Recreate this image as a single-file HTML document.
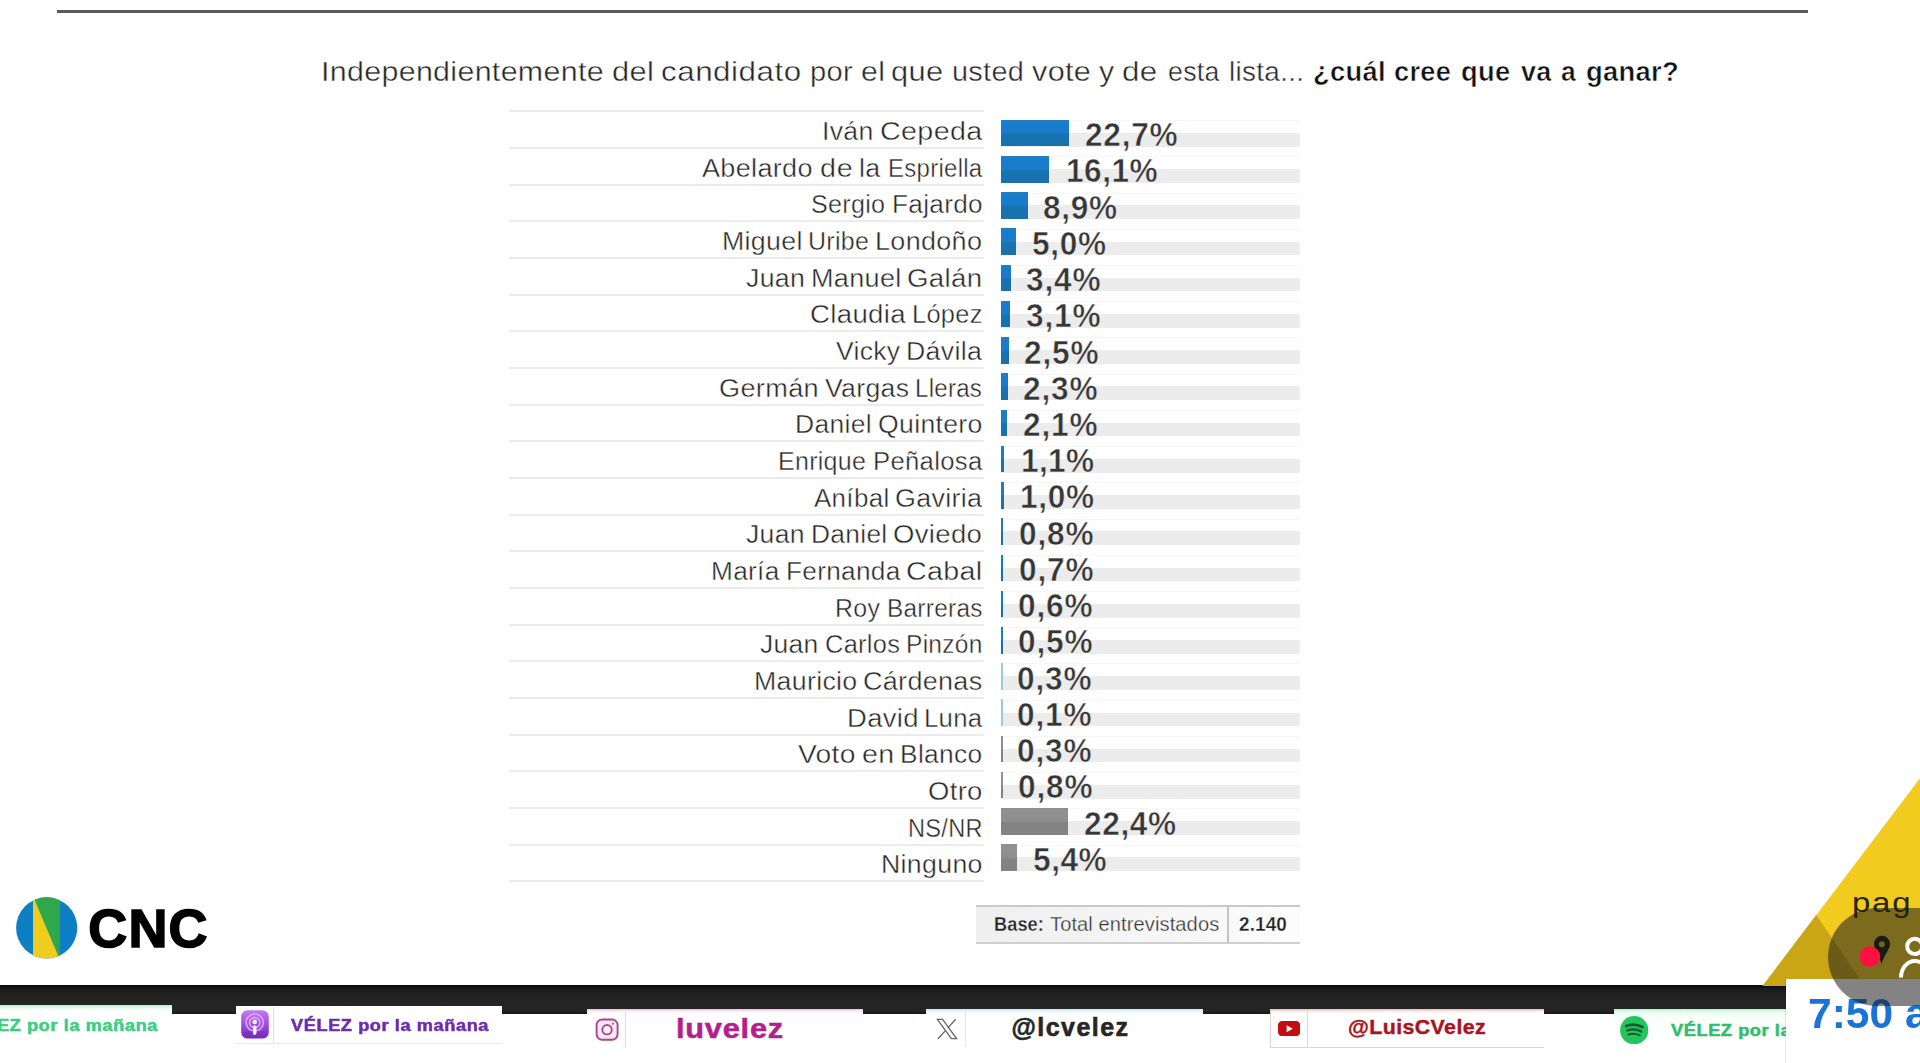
<!DOCTYPE html>
<html lang="es">
<head>
<meta charset="utf-8">
<title>Encuesta CNC</title>
<style>
html,body{margin:0;padding:0;background:#fff;}
html{width:1920px;height:1063px;overflow:hidden;}
body{position:relative;width:1920px;height:1063px;overflow:hidden;font-family:"Liberation Sans",sans-serif;}
#clip{position:absolute;left:0;top:0;width:1920px;height:1063px;overflow:hidden;}
#soft{position:absolute;left:-12px;top:-12px;width:1944px;height:1087px;background:#fff;filter:blur(0.45px);}
#stage{position:absolute;left:12px;top:12px;width:1920px;height:1063px;background:#fff;}
.t{position:absolute;white-space:nowrap;line-height:1;margin:0;padding:0;z-index:1;}
.a{position:absolute;}
.sep{position:absolute;left:509px;width:475px;height:2px;background:#ebebeb;}
.trk{position:absolute;left:1001px;width:299px;height:13.8px;background:#ececec;border-radius:0 2px 2px 0;}
.hl{position:absolute;left:1001px;width:299px;height:1px;background:#f6f6f6;}
.bar{position:absolute;left:1001px;height:26.7px;}
.bb{background:linear-gradient(180deg,#2a7cb6 0%,#187dce 9%,#1a7bc8 49%,#1872b0 56%,#1871ad 96%,#2470a4 100%);}
.bl{background:#9fc6e4;}
.bg{background:linear-gradient(180deg,#8d8d8d 0%,#919191 8%,#8e8e8e 49%,#838383 56%,#828282 100%);}
.tab{position:absolute;background:#fff;}

</style>
</head>
<body>
<div id="clip">
<div id="soft">
<div id="stage">
<div class="a" style="left:57px;top:9.5px;width:1751px;height:3px;background:#5a5a5a;"></div>
<div class="sep" style="top:110.4px"></div>
<div class="hl" style="top:120.0px"></div>
<div class="trk" style="top:132.8px"></div>
<div class="bar bb" style="top:119.7px;width:68.1px"></div>
<div class="sep" style="top:147.1px"></div>
<div class="hl" style="top:156.2px"></div>
<div class="trk" style="top:169.0px"></div>
<div class="bar bb" style="top:155.9px;width:48.3px"></div>
<div class="sep" style="top:183.7px"></div>
<div class="hl" style="top:192.5px"></div>
<div class="trk" style="top:205.3px"></div>
<div class="bar bb" style="top:192.2px;width:26.7px"></div>
<div class="sep" style="top:220.4px"></div>
<div class="hl" style="top:228.7px"></div>
<div class="trk" style="top:241.5px"></div>
<div class="bar bb" style="top:228.4px;width:15.0px"></div>
<div class="sep" style="top:257.1px"></div>
<div class="hl" style="top:264.9px"></div>
<div class="trk" style="top:277.7px"></div>
<div class="bar bb" style="top:264.6px;width:10.2px"></div>
<div class="sep" style="top:293.7px"></div>
<div class="hl" style="top:301.1px"></div>
<div class="trk" style="top:313.9px"></div>
<div class="bar bb" style="top:300.8px;width:9.3px"></div>
<div class="sep" style="top:330.4px"></div>
<div class="hl" style="top:337.4px"></div>
<div class="trk" style="top:350.2px"></div>
<div class="bar bb" style="top:337.1px;width:7.5px"></div>
<div class="sep" style="top:367.1px"></div>
<div class="hl" style="top:373.6px"></div>
<div class="trk" style="top:386.4px"></div>
<div class="bar bb" style="top:373.3px;width:6.9px"></div>
<div class="sep" style="top:403.7px"></div>
<div class="hl" style="top:409.8px"></div>
<div class="trk" style="top:422.6px"></div>
<div class="bar bb" style="top:409.5px;width:6.3px"></div>
<div class="sep" style="top:440.4px"></div>
<div class="hl" style="top:446.1px"></div>
<div class="trk" style="top:458.9px"></div>
<div class="bar bb" style="top:445.8px;width:3.3px"></div>
<div class="sep" style="top:477.0px"></div>
<div class="hl" style="top:482.3px"></div>
<div class="trk" style="top:495.1px"></div>
<div class="bar bb" style="top:482.0px;width:3.0px"></div>
<div class="sep" style="top:513.7px"></div>
<div class="hl" style="top:518.5px"></div>
<div class="trk" style="top:531.3px"></div>
<div class="bar bb" style="top:518.2px;width:2.4px"></div>
<div class="sep" style="top:550.4px"></div>
<div class="hl" style="top:554.8px"></div>
<div class="trk" style="top:567.6px"></div>
<div class="bar bb" style="top:554.5px;width:2.1px"></div>
<div class="sep" style="top:587.0px"></div>
<div class="hl" style="top:591.0px"></div>
<div class="trk" style="top:603.8px"></div>
<div class="bar bb" style="top:590.7px;width:1.8px"></div>
<div class="sep" style="top:623.7px"></div>
<div class="hl" style="top:627.2px"></div>
<div class="trk" style="top:640.0px"></div>
<div class="bar bb" style="top:626.9px;width:1.6px"></div>
<div class="sep" style="top:660.4px"></div>
<div class="hl" style="top:663.4px"></div>
<div class="trk" style="top:676.2px"></div>
<div class="bar bl" style="top:663.1px;width:1.6px"></div>
<div class="sep" style="top:697.0px"></div>
<div class="hl" style="top:699.7px"></div>
<div class="trk" style="top:712.5px"></div>
<div class="bar bl" style="top:699.4px;width:1.6px"></div>
<div class="sep" style="top:733.7px"></div>
<div class="hl" style="top:735.9px"></div>
<div class="trk" style="top:748.7px"></div>
<div class="bar bg" style="top:735.6px;width:1.6px"></div>
<div class="sep" style="top:770.4px"></div>
<div class="hl" style="top:772.1px"></div>
<div class="trk" style="top:784.9px"></div>
<div class="bar bg" style="top:771.8px;width:2.4px"></div>
<div class="sep" style="top:807.0px"></div>
<div class="hl" style="top:808.4px"></div>
<div class="trk" style="top:821.2px"></div>
<div class="bar bg" style="top:808.1px;width:67.2px"></div>
<div class="sep" style="top:843.7px"></div>
<div class="hl" style="top:844.6px"></div>
<div class="trk" style="top:857.4px"></div>
<div class="bar bg" style="top:844.3px;width:16.2px"></div>
<div class="sep" style="top:880.4px"></div>
<div class="a" style="left:976px;top:905px;width:324px;height:39px;background:linear-gradient(90deg,#efefef 0%,#f6f6f6 60%,#fdfdfd 100%);border-top:2px solid #c9c9c9;border-bottom:2px solid #cfcfcf;box-sizing:border-box;"></div>
<div class="a" style="left:1227px;top:906px;width:1.5px;height:37px;background:#c4c4c4;"></div>
<svg class="a" style="left:15px;top:896px" width="64" height="64" viewBox="0 0 64 64">
<defs><clipPath id="cc"><circle cx="31.7" cy="31.9" r="30.6"/></clipPath></defs>
<g clip-path="url(#cc)">
<rect x="0" y="0" width="64" height="64" fill="#0d7fc4"/>
<polygon points="18,0 45,0 45,64" fill="#2fa84c"/>
<polygon points="18,0 45,64 18,64" fill="#efcd1f"/>
</g></svg>
<div class="a" style="left:-12px;top:985px;width:1798px;height:28.6px;background:linear-gradient(180deg,#080808 0%,#1b1b1b 14%,#232323 40%,#252525 88%,#161616 100%);"></div>
<div class="tab" style="left:-12px;top:1004.8px;width:184px;height:40px;background:linear-gradient(180deg,#aef3c8 0px,#e9fcf0 3px,#fff 6px);"></div>
<div class="tab" style="left:236px;top:1005.6px;width:265.6px;height:38px;border-bottom:1px solid #ece6f2;box-sizing:border-box;"></div>
<svg class="a" style="left:241px;top:1010.2px" width="28" height="29" viewBox="0 0 28 29">
<defs><linearGradient id="pg" x1="0" y1="0" x2="0" y2="1"><stop offset="0" stop-color="#c57af3"/><stop offset="0.6" stop-color="#9a45d6"/><stop offset="1" stop-color="#7426b6"/></linearGradient></defs>
<rect x="0.2" y="0.2" width="27.6" height="28.4" rx="6.4" fill="url(#pg)"/>
<circle cx="13.7" cy="12.6" r="8.6" fill="none" stroke="#e6c4fb" stroke-opacity="0.75" stroke-width="1.7"/>
<circle cx="13.7" cy="12.6" r="5.2" fill="none" stroke="#e9cbfc" stroke-opacity="0.8" stroke-width="1.5"/>
<path d="M3 21 L24.4 21 L24.4 26 L3 26 Z" fill="#7e2ebf" opacity="0.55"/>
<circle cx="13.7" cy="11.9" r="2.3" fill="#fbf2ff"/>
<rect x="11.9" y="15.3" width="3.6" height="9.6" rx="1.8" fill="#fbf2ff"/>
</svg>
<div class="a" style="left:272.8px;top:1007px;width:1.2px;height:36px;background:#e4dced;"></div>
<div class="tab" style="left:587px;top:1009.2px;width:276px;height:39px;background:linear-gradient(180deg,#f0b9dc 0px,#fdf1f8 2.5px,#fff 5px);"></div>
<svg class="a" style="left:594.6px;top:1018px" width="24" height="23" viewBox="0 0 24 23" fill="none" stroke="#a8478a" stroke-width="1.9">
<rect x="1.6" y="1.5" width="21" height="20.2" rx="5.6" fill="#fde6f5"/><circle cx="12" cy="11.7" r="4.7" fill="#fff4fb"/><circle cx="17.9" cy="5.8" r="1" fill="#a8478a" stroke="none"/></svg>
<div class="a" style="left:624.8px;top:1011.5px;width:1.2px;height:36.5px;background:#ecd3e2;"></div>
<div class="tab" style="left:926.2px;top:1008.8px;width:276.4px;height:39px;background:linear-gradient(180deg,#c4ebf8 0px,#eef9fd 3px,#fff 6px);"></div>
<svg class="a" style="left:935.8px;top:1017.8px" width="22" height="22" viewBox="0 0 22 22" fill="none" stroke="#666" stroke-width="1.3" stroke-linejoin="miter">
<path d="M1.4 1.3 L6.6 1.3 L20.6 20.7 L15.4 20.7 Z"/><path d="M19.6 1.3 L11.9 9.9"/><path d="M9.5 12.6 L1.9 20.7"/></svg>
<div class="a" style="left:964.8px;top:1011px;width:1.2px;height:35.5px;background:#dbe9ef;"></div>
<div class="tab" style="left:1269.6px;top:1009.2px;width:274.8px;height:39px;border-left:1.5px solid #dfcfd0;border-bottom:1.5px solid #e3d2d3;box-sizing:border-box;background:linear-gradient(180deg,#efb4b7 0px,#fdf0f0 2.5px,#fff 5px);"></div>
<svg class="a" style="left:1277.8px;top:1021.2px" width="22.2" height="15.2" viewBox="0 0 22.2 15.2">
<rect x="0" y="0" width="22.2" height="15.2" rx="4.2" fill="#c30d12"/><polygon points="8.6,4.2 8.6,11.2 14.8,7.7" fill="#fff"/></svg>
<div class="a" style="left:1306.9px;top:1010.5px;width:1.4px;height:37px;background:#e6d3d4;"></div>
<div class="tab" style="left:1613.5px;top:1009px;width:175px;height:41px;background:linear-gradient(180deg,#a9f5c6 0px,#e6fdef 3px,#f7fffa 7px,#fff 30px);"></div>
<svg class="a" style="left:1620.2px;top:1015.7px" width="28.4" height="28.4" viewBox="0 0 28 28">
<circle cx="14" cy="14" r="13.9" fill="#23c55d"/>
<g fill="none" stroke="#175a2c" stroke-linecap="round">
<path d="M6.2 9.9 Q14 6.6 22.2 10.9" stroke-width="2.7"/>
<path d="M7.2 14.3 Q14 11.7 20.9 15.2" stroke-width="2.3"/>
<path d="M8.2 18.4 Q14 16.4 19.6 19.1" stroke-width="1.9"/>
</g></svg>
<svg class="a" style="left:1740px;top:760px" width="180" height="230" viewBox="0 0 180 230">
<polygon points="181,17 181,226 22.6,226" fill="#f1cb1d"/>
<polygon points="22.6,226 76.2,154.9 124.7,226" fill="#caa616"/>
</svg>
<div class="a" style="left:1785.6px;top:979px;width:140px;height:90px;background:#fff;box-shadow:-1px 0 0 rgba(0,0,0,0.10);z-index:3;"></div>
<div class="a" style="left:1828px;top:907.5px;width:200px;height:98px;border-radius:49px;background:rgba(30,30,30,0.55);z-index:5;"></div>
<svg class="a" style="left:1855px;top:930px;z-index:6" width="65" height="60" viewBox="0 0 65 60">
<path d="M27 5.8 a8 8 0 0 1 8 8 c0 5.4 -5.2 9.4 -8.6 20.8 c-1.2 -8.4 -7.4 -14.4 -7.4 -20.8 a8 8 0 0 1 8 -8 z" fill="#1c1a14"/>
<circle cx="26.8" cy="14.2" r="3" fill="#6f6322"/>
<circle cx="14.8" cy="26.6" r="10.3" fill="#ff1040"/>
<circle cx="59.8" cy="16.4" r="7.6" fill="none" stroke="#fff" stroke-width="4"/>
<path d="M46 47.5 a13.8 16.6 0 0 1 27.6 0" fill="none" stroke="#fff" stroke-width="4"/>
</svg>
<div class="t" id="w0" style="left:321.1px;top:58.0px;font-size:27.5px;font-weight:400;color:#262626;letter-spacing:0.300px;transform:scaleX(1.1045);transform-origin:0 0;-webkit-text-stroke:0.4px #fff;">Independientemente</div>
<div class="t" id="w1" style="left:612.4px;top:58.0px;font-size:27.5px;font-weight:400;color:#262626;letter-spacing:0.300px;transform:scaleX(1.1219);transform-origin:0 0;-webkit-text-stroke:0.4px #fff;">del</div>
<div class="t" id="w2" style="left:661.1px;top:58.0px;font-size:27.5px;font-weight:400;color:#262626;letter-spacing:0.454px;transform:scaleX(1.1400);transform-origin:0 0;-webkit-text-stroke:0.4px #fff;">candidato</div>
<div class="t" id="w3" style="left:809.9px;top:58.0px;font-size:27.5px;font-weight:400;color:#262626;letter-spacing:0.300px;transform:scaleX(1.0558);transform-origin:0 0;-webkit-text-stroke:0.4px #fff;">por</div>
<div class="t" id="w4" style="left:861.1px;top:58.0px;font-size:27.5px;font-weight:400;color:#262626;letter-spacing:0.300px;transform:scaleX(1.0988);transform-origin:0 0;-webkit-text-stroke:0.4px #fff;">el</div>
<div class="t" id="w5" style="left:891.1px;top:58.0px;font-size:27.5px;font-weight:400;color:#262626;letter-spacing:0.300px;transform:scaleX(1.1207);transform-origin:0 0;-webkit-text-stroke:0.4px #fff;">que</div>
<div class="t" id="w6" style="left:951.9px;top:58.0px;font-size:27.5px;font-weight:400;color:#262626;letter-spacing:0.300px;transform:scaleX(1.0492);transform-origin:0 0;-webkit-text-stroke:0.4px #fff;">usted</div>
<div class="t" id="w7" style="left:1032.3px;top:58.0px;font-size:27.5px;font-weight:400;color:#262626;letter-spacing:0.300px;transform:scaleX(1.1128);transform-origin:0 0;-webkit-text-stroke:0.4px #fff;">vote</div>
<div class="t" id="w8" style="left:1098.6px;top:58.0px;font-size:27.5px;font-weight:400;color:#262626;letter-spacing:0.000px;transform:scaleX(1.0982);transform-origin:0 0;-webkit-text-stroke:0.4px #fff;">y</div>
<div class="t" id="w9" style="left:1121.6px;top:58.0px;font-size:27.5px;font-weight:400;color:#262626;letter-spacing:0.300px;transform:scaleX(1.1394);transform-origin:0 0;-webkit-text-stroke:0.4px #fff;">de</div>
<div class="t" id="w10" style="left:1168.0px;top:58.0px;font-size:27.5px;font-weight:400;color:#262626;letter-spacing:0.300px;transform:scaleX(0.9700);transform-origin:0 0;-webkit-text-stroke:0.4px #fff;">esta</div>
<div class="t" id="w11" style="left:1229.2px;top:58.0px;font-size:27.5px;font-weight:400;color:#262626;letter-spacing:0.300px;transform:scaleX(1.0159);transform-origin:0 0;-webkit-text-stroke:0.4px #fff;">lista...</div>
<div class="t" id="w12" style="left:1312.8px;top:58.0px;font-size:27.5px;font-weight:700;color:#111;letter-spacing:0.300px;transform:scaleX(0.9941);transform-origin:0 0;-webkit-text-stroke:0.5px #fff;">¿cuál</div>
<div class="t" id="w13" style="left:1394.1px;top:58.0px;font-size:27.5px;font-weight:700;color:#111;letter-spacing:0.300px;transform:scaleX(0.9897);transform-origin:0 0;-webkit-text-stroke:0.5px #fff;">cree</div>
<div class="t" id="w14" style="left:1461.3px;top:58.0px;font-size:27.5px;font-weight:700;color:#111;letter-spacing:0.300px;transform:scaleX(0.9921);transform-origin:0 0;-webkit-text-stroke:0.5px #fff;">que</div>
<div class="t" id="w15" style="left:1520.7px;top:58.0px;font-size:27.5px;font-weight:700;color:#111;letter-spacing:0.300px;transform:scaleX(0.9808);transform-origin:0 0;-webkit-text-stroke:0.5px #fff;">va</div>
<div class="t" id="w16" style="left:1561.3px;top:58.0px;font-size:27.5px;font-weight:700;color:#111;letter-spacing:0.000px;transform:scaleX(0.9610);transform-origin:0 0;-webkit-text-stroke:0.5px #fff;">a</div>
<div class="t" id="w17" style="left:1586.3px;top:58.0px;font-size:27.5px;font-weight:700;color:#111;letter-spacing:0.300px;transform:scaleX(0.9958);transform-origin:0 0;-webkit-text-stroke:0.5px #fff;">ganar?</div>
<div class="t" id="l0_0" style="left:822.4px;top:119.0px;font-size:25.2px;font-weight:400;color:#262626;letter-spacing:0.300px;transform:scaleX(1.0558);transform-origin:0 0;-webkit-text-stroke:0.4px #fff;">Iván</div>
<div class="t" id="l0_1" style="left:880.0px;top:119.0px;font-size:25.2px;font-weight:400;color:#262626;letter-spacing:0.300px;transform:scaleX(1.1391);transform-origin:0 0;-webkit-text-stroke:0.4px #fff;">Cepeda</div>
<div class="t" id="v0" style="left:1084.8px;top:117.0px;font-size:34px;font-weight:700;color:#363636;letter-spacing:0.818px;transform:scaleX(0.9300);transform-origin:0 0;-webkit-text-stroke:0.5px #fbfbfb;">22,7%</div>
<div class="t" id="l1_0" style="left:701.8px;top:156.0px;font-size:25.2px;font-weight:400;color:#262626;letter-spacing:0.300px;transform:scaleX(1.0730);transform-origin:0 0;-webkit-text-stroke:0.4px #fff;">Abelardo</div>
<div class="t" id="l1_1" style="left:819.7px;top:156.0px;font-size:25.2px;font-weight:400;color:#262626;letter-spacing:0.730px;transform:scaleX(1.1400);transform-origin:0 0;-webkit-text-stroke:0.4px #fff;">de</div>
<div class="t" id="l1_2" style="left:859.2px;top:156.0px;font-size:25.2px;font-weight:400;color:#262626;letter-spacing:0.300px;transform:scaleX(1.0622);transform-origin:0 0;-webkit-text-stroke:0.4px #fff;">la</div>
<div class="t" id="l1_3" style="left:888.0px;top:156.0px;font-size:25.2px;font-weight:400;color:#262626;letter-spacing:0.300px;transform:scaleX(0.9513);transform-origin:0 0;-webkit-text-stroke:0.4px #fff;">Espriella</div>
<div class="t" id="v1" style="left:1066.3px;top:153.0px;font-size:34px;font-weight:700;color:#363636;letter-spacing:0.549px;transform:scaleX(0.9300);transform-origin:0 0;-webkit-text-stroke:0.5px #fbfbfb;">16,1%</div>
<div class="t" id="l2_0" style="left:811.2px;top:192.0px;font-size:25.2px;font-weight:400;color:#262626;letter-spacing:0.300px;transform:scaleX(0.9965);transform-origin:0 0;-webkit-text-stroke:0.4px #fff;">Sergio</div>
<div class="t" id="l2_1" style="left:891.6px;top:192.0px;font-size:25.2px;font-weight:400;color:#262626;letter-spacing:0.300px;transform:scaleX(1.0387);transform-origin:0 0;-webkit-text-stroke:0.4px #fff;">Fajardo</div>
<div class="t" id="v2" style="left:1043.3px;top:190.0px;font-size:34px;font-weight:700;color:#363636;letter-spacing:0.762px;transform:scaleX(0.9300);transform-origin:0 0;-webkit-text-stroke:0.5px #fbfbfb;">8,9%</div>
<div class="t" id="l3_0" style="left:722.3px;top:229.0px;font-size:25.2px;font-weight:400;color:#262626;letter-spacing:0.300px;transform:scaleX(1.0623);transform-origin:0 0;-webkit-text-stroke:0.4px #fff;">Miguel</div>
<div class="t" id="l3_1" style="left:808.4px;top:229.0px;font-size:25.2px;font-weight:400;color:#262626;letter-spacing:0.300px;transform:scaleX(0.9924);transform-origin:0 0;-webkit-text-stroke:0.4px #fff;">Uribe</div>
<div class="t" id="l3_2" style="left:875.3px;top:229.0px;font-size:25.2px;font-weight:400;color:#262626;letter-spacing:0.300px;transform:scaleX(1.0702);transform-origin:0 0;-webkit-text-stroke:0.4px #fff;">Londoño</div>
<div class="t" id="v3" style="left:1031.8px;top:226.0px;font-size:34px;font-weight:700;color:#363636;letter-spacing:0.762px;transform:scaleX(0.9300);transform-origin:0 0;-webkit-text-stroke:0.5px #fbfbfb;">5,0%</div>
<div class="t" id="l4_0" style="left:746.0px;top:266.0px;font-size:25.2px;font-weight:400;color:#262626;letter-spacing:0.300px;transform:scaleX(1.0596);transform-origin:0 0;-webkit-text-stroke:0.4px #fff;">Juan</div>
<div class="t" id="l4_1" style="left:810.8px;top:266.0px;font-size:25.2px;font-weight:400;color:#262626;letter-spacing:0.300px;transform:scaleX(1.0740);transform-origin:0 0;-webkit-text-stroke:0.4px #fff;">Manuel</div>
<div class="t" id="l4_2" style="left:907.1px;top:266.0px;font-size:25.2px;font-weight:400;color:#262626;letter-spacing:0.300px;transform:scaleX(1.0981);transform-origin:0 0;-webkit-text-stroke:0.4px #fff;">Galán</div>
<div class="t" id="v4" style="left:1026.3px;top:262.0px;font-size:34px;font-weight:700;color:#363636;letter-spacing:0.941px;transform:scaleX(0.9300);transform-origin:0 0;-webkit-text-stroke:0.5px #fbfbfb;">3,4%</div>
<div class="t" id="l5_0" style="left:809.8px;top:302.0px;font-size:25.2px;font-weight:400;color:#262626;letter-spacing:0.300px;transform:scaleX(1.0956);transform-origin:0 0;-webkit-text-stroke:0.4px #fff;">Claudia</div>
<div class="t" id="l5_1" style="left:911.7px;top:302.0px;font-size:25.2px;font-weight:400;color:#262626;letter-spacing:0.300px;transform:scaleX(1.0090);transform-origin:0 0;-webkit-text-stroke:0.4px #fff;">López</div>
<div class="t" id="v5" style="left:1025.8px;top:298.0px;font-size:34px;font-weight:700;color:#363636;letter-spacing:0.941px;transform:scaleX(0.9300);transform-origin:0 0;-webkit-text-stroke:0.5px #fbfbfb;">3,1%</div>
<div class="t" id="l6_0" style="left:836.0px;top:339.0px;font-size:25.2px;font-weight:400;color:#262626;letter-spacing:0.300px;transform:scaleX(1.0515);transform-origin:0 0;-webkit-text-stroke:0.4px #fff;">Vicky</div>
<div class="t" id="l6_1" style="left:906.4px;top:339.0px;font-size:25.2px;font-weight:400;color:#262626;letter-spacing:0.300px;transform:scaleX(1.0596);transform-origin:0 0;-webkit-text-stroke:0.4px #fff;">Dávila</div>
<div class="t" id="v6" style="left:1023.8px;top:335.0px;font-size:34px;font-weight:700;color:#363636;letter-spacing:0.941px;transform:scaleX(0.9300);transform-origin:0 0;-webkit-text-stroke:0.5px #fbfbfb;">2,5%</div>
<div class="t" id="l7_0" style="left:718.5px;top:376.0px;font-size:25.2px;font-weight:400;color:#262626;letter-spacing:0.300px;transform:scaleX(1.0775);transform-origin:0 0;-webkit-text-stroke:0.4px #fff;">Germán</div>
<div class="t" id="l7_1" style="left:824.5px;top:376.0px;font-size:25.2px;font-weight:400;color:#262626;letter-spacing:0.300px;transform:scaleX(1.0575);transform-origin:0 0;-webkit-text-stroke:0.4px #fff;">Vargas</div>
<div class="t" id="l7_2" style="left:915.3px;top:376.0px;font-size:25.2px;font-weight:400;color:#262626;letter-spacing:0.300px;transform:scaleX(0.9539);transform-origin:0 0;-webkit-text-stroke:0.4px #fff;">Lleras</div>
<div class="t" id="v7" style="left:1023.3px;top:371.0px;font-size:34px;font-weight:700;color:#363636;letter-spacing:0.941px;transform:scaleX(0.9300);transform-origin:0 0;-webkit-text-stroke:0.5px #fbfbfb;">2,3%</div>
<div class="t" id="l8_0" style="left:795.4px;top:412.0px;font-size:25.2px;font-weight:400;color:#262626;letter-spacing:0.300px;transform:scaleX(1.0496);transform-origin:0 0;-webkit-text-stroke:0.4px #fff;">Daniel</div>
<div class="t" id="l8_1" style="left:877.9px;top:412.0px;font-size:25.2px;font-weight:400;color:#262626;letter-spacing:0.300px;transform:scaleX(1.0570);transform-origin:0 0;-webkit-text-stroke:0.4px #fff;">Quintero</div>
<div class="t" id="v8" style="left:1022.8px;top:407.0px;font-size:34px;font-weight:700;color:#363636;letter-spacing:0.941px;transform:scaleX(0.9300);transform-origin:0 0;-webkit-text-stroke:0.5px #fbfbfb;">2,1%</div>
<div class="t" id="l9_0" style="left:778.3px;top:449.0px;font-size:25.2px;font-weight:400;color:#262626;letter-spacing:0.300px;transform:scaleX(0.9919);transform-origin:0 0;-webkit-text-stroke:0.4px #fff;">Enrique</div>
<div class="t" id="l9_1" style="left:873.0px;top:449.0px;font-size:25.2px;font-weight:400;color:#262626;letter-spacing:0.300px;transform:scaleX(1.0193);transform-origin:0 0;-webkit-text-stroke:0.4px #fff;">Peñalosa</div>
<div class="t" id="v9" style="left:1020.8px;top:443.0px;font-size:34px;font-weight:700;color:#363636;letter-spacing:0.403px;transform:scaleX(0.9300);transform-origin:0 0;-webkit-text-stroke:0.5px #fbfbfb;">1,1%</div>
<div class="t" id="l10_0" style="left:813.7px;top:486.0px;font-size:25.2px;font-weight:400;color:#262626;letter-spacing:0.300px;transform:scaleX(1.0306);transform-origin:0 0;-webkit-text-stroke:0.4px #fff;">Aníbal</div>
<div class="t" id="l10_1" style="left:895.2px;top:486.0px;font-size:25.2px;font-weight:400;color:#262626;letter-spacing:0.300px;transform:scaleX(1.0662);transform-origin:0 0;-webkit-text-stroke:0.4px #fff;">Gaviria</div>
<div class="t" id="v10" style="left:1019.8px;top:479.0px;font-size:34px;font-weight:700;color:#363636;letter-spacing:0.762px;transform:scaleX(0.9300);transform-origin:0 0;-webkit-text-stroke:0.5px #fbfbfb;">1,0%</div>
<div class="t" id="l11_0" style="left:746.3px;top:522.0px;font-size:25.2px;font-weight:400;color:#262626;letter-spacing:0.300px;transform:scaleX(1.0542);transform-origin:0 0;-webkit-text-stroke:0.4px #fff;">Juan</div>
<div class="t" id="l11_1" style="left:811.2px;top:522.0px;font-size:25.2px;font-weight:400;color:#262626;letter-spacing:0.300px;transform:scaleX(1.0448);transform-origin:0 0;-webkit-text-stroke:0.4px #fff;">Daniel</div>
<div class="t" id="l11_2" style="left:893.3px;top:522.0px;font-size:25.2px;font-weight:400;color:#262626;letter-spacing:0.300px;transform:scaleX(1.0931);transform-origin:0 0;-webkit-text-stroke:0.4px #fff;">Oviedo</div>
<div class="t" id="v11" style="left:1018.8px;top:516.0px;font-size:34px;font-weight:700;color:#363636;letter-spacing:0.941px;transform:scaleX(0.9300);transform-origin:0 0;-webkit-text-stroke:0.5px #fbfbfb;">0,8%</div>
<div class="t" id="l12_0" style="left:710.8px;top:559.0px;font-size:25.2px;font-weight:400;color:#262626;letter-spacing:0.300px;transform:scaleX(1.0400);transform-origin:0 0;-webkit-text-stroke:0.4px #fff;">María</div>
<div class="t" id="l12_1" style="left:785.8px;top:559.0px;font-size:25.2px;font-weight:400;color:#262626;letter-spacing:0.300px;transform:scaleX(1.0395);transform-origin:0 0;-webkit-text-stroke:0.4px #fff;">Fernanda</div>
<div class="t" id="l12_2" style="left:906.0px;top:559.0px;font-size:25.2px;font-weight:400;color:#262626;letter-spacing:0.300px;transform:scaleX(1.1369);transform-origin:0 0;-webkit-text-stroke:0.4px #fff;">Cabal</div>
<div class="t" id="v12" style="left:1018.8px;top:552.0px;font-size:34px;font-weight:700;color:#363636;letter-spacing:0.941px;transform:scaleX(0.9300);transform-origin:0 0;-webkit-text-stroke:0.5px #fbfbfb;">0,7%</div>
<div class="t" id="l13_0" style="left:835.1px;top:596.0px;font-size:25.2px;font-weight:400;color:#262626;letter-spacing:0.300px;transform:scaleX(0.9883);transform-origin:0 0;-webkit-text-stroke:0.4px #fff;">Roy</div>
<div class="t" id="l13_1" style="left:886.8px;top:596.0px;font-size:25.2px;font-weight:400;color:#262626;letter-spacing:0.300px;transform:scaleX(0.9671);transform-origin:0 0;-webkit-text-stroke:0.4px #fff;">Barreras</div>
<div class="t" id="v13" style="left:1018.3px;top:588.0px;font-size:34px;font-weight:700;color:#363636;letter-spacing:0.941px;transform:scaleX(0.9300);transform-origin:0 0;-webkit-text-stroke:0.5px #fbfbfb;">0,6%</div>
<div class="t" id="l14_0" style="left:759.9px;top:632.0px;font-size:25.2px;font-weight:400;color:#262626;letter-spacing:0.300px;transform:scaleX(1.0494);transform-origin:0 0;-webkit-text-stroke:0.4px #fff;">Juan</div>
<div class="t" id="l14_1" style="left:824.5px;top:632.0px;font-size:25.2px;font-weight:400;color:#262626;letter-spacing:0.300px;transform:scaleX(1.0082);transform-origin:0 0;-webkit-text-stroke:0.4px #fff;">Carlos</div>
<div class="t" id="l14_2" style="left:905.8px;top:632.0px;font-size:25.2px;font-weight:400;color:#262626;letter-spacing:0.300px;transform:scaleX(0.9730);transform-origin:0 0;-webkit-text-stroke:0.4px #fff;">Pinzón</div>
<div class="t" id="v14" style="left:1017.8px;top:624.0px;font-size:34px;font-weight:700;color:#363636;letter-spacing:0.941px;transform:scaleX(0.9300);transform-origin:0 0;-webkit-text-stroke:0.5px #fbfbfb;">0,5%</div>
<div class="t" id="l15_0" style="left:753.9px;top:669.0px;font-size:25.2px;font-weight:400;color:#262626;letter-spacing:0.300px;transform:scaleX(1.0609);transform-origin:0 0;-webkit-text-stroke:0.4px #fff;">Mauricio</div>
<div class="t" id="l15_1" style="left:863.1px;top:669.0px;font-size:25.2px;font-weight:400;color:#262626;letter-spacing:0.300px;transform:scaleX(1.0703);transform-origin:0 0;-webkit-text-stroke:0.4px #fff;">Cárdenas</div>
<div class="t" id="v15" style="left:1017.3px;top:661.0px;font-size:34px;font-weight:700;color:#363636;letter-spacing:0.941px;transform:scaleX(0.9300);transform-origin:0 0;-webkit-text-stroke:0.5px #fbfbfb;">0,3%</div>
<div class="t" id="l16_0" style="left:846.6px;top:706.0px;font-size:25.2px;font-weight:400;color:#262626;letter-spacing:0.300px;transform:scaleX(1.0892);transform-origin:0 0;-webkit-text-stroke:0.4px #fff;">David</div>
<div class="t" id="l16_1" style="left:924.0px;top:706.0px;font-size:25.2px;font-weight:400;color:#262626;letter-spacing:0.300px;transform:scaleX(1.0220);transform-origin:0 0;-webkit-text-stroke:0.4px #fff;">Luna</div>
<div class="t" id="v16" style="left:1016.8px;top:697.0px;font-size:34px;font-weight:700;color:#363636;letter-spacing:0.941px;transform:scaleX(0.9300);transform-origin:0 0;-webkit-text-stroke:0.5px #fbfbfb;">0,1%</div>
<div class="t" id="l17_0" style="left:797.5px;top:742.0px;font-size:25.2px;font-weight:400;color:#262626;letter-spacing:0.300px;transform:scaleX(1.1199);transform-origin:0 0;-webkit-text-stroke:0.4px #fff;">Voto</div>
<div class="t" id="l17_1" style="left:861.6px;top:742.0px;font-size:25.2px;font-weight:400;color:#262626;letter-spacing:0.300px;transform:scaleX(1.1349);transform-origin:0 0;-webkit-text-stroke:0.4px #fff;">en</div>
<div class="t" id="l17_2" style="left:900.1px;top:742.0px;font-size:25.2px;font-weight:400;color:#262626;letter-spacing:0.300px;transform:scaleX(1.0458);transform-origin:0 0;-webkit-text-stroke:0.4px #fff;">Blanco</div>
<div class="t" id="v17" style="left:1017.3px;top:733.0px;font-size:34px;font-weight:700;color:#363636;letter-spacing:0.941px;transform:scaleX(0.9300);transform-origin:0 0;-webkit-text-stroke:0.5px #fbfbfb;">0,3%</div>
<div class="t" id="l18_0" style="left:927.8px;top:779.0px;font-size:25.2px;font-weight:400;color:#262626;letter-spacing:0.300px;transform:scaleX(1.0902);transform-origin:0 0;-webkit-text-stroke:0.4px #fff;">Otro</div>
<div class="t" id="v18" style="left:1018.3px;top:769.0px;font-size:34px;font-weight:700;color:#363636;letter-spacing:0.941px;transform:scaleX(0.9300);transform-origin:0 0;-webkit-text-stroke:0.5px #fbfbfb;">0,8%</div>
<div class="t" id="l19_0" style="left:907.7px;top:816.0px;font-size:25.2px;font-weight:400;color:#262626;letter-spacing:0.300px;transform:scaleX(0.9362);transform-origin:0 0;-webkit-text-stroke:0.4px #fff;">NS/NR</div>
<div class="t" id="v19" style="left:1083.8px;top:806.0px;font-size:34px;font-weight:700;color:#363636;letter-spacing:0.683px;transform:scaleX(0.9300);transform-origin:0 0;-webkit-text-stroke:0.5px #fbfbfb;">22,4%</div>
<div class="t" id="l20_0" style="left:880.8px;top:852.0px;font-size:25.2px;font-weight:400;color:#262626;letter-spacing:0.300px;transform:scaleX(1.0604);transform-origin:0 0;-webkit-text-stroke:0.4px #fff;">Ninguno</div>
<div class="t" id="v20" style="left:1033.3px;top:842.0px;font-size:34px;font-weight:700;color:#363636;letter-spacing:0.582px;transform:scaleX(0.9300);transform-origin:0 0;-webkit-text-stroke:0.5px #fbfbfb;">5,4%</div>
<div class="t" id="b1" style="left:993.6px;top:915.0px;font-size:19.5px;font-weight:700;color:#222;letter-spacing:0.106px;transform:scaleX(0.9300);transform-origin:0 0;-webkit-text-stroke:0.3px #f3f3f3;">Base:</div>
<div class="t" id="b2" style="left:1049.6px;top:915.0px;font-size:19.5px;font-weight:400;color:#333;letter-spacing:0.093px;transform:scaleX(1.0300);transform-origin:0 0;-webkit-text-stroke:0.3px #f5f5f5;">Total entrevistados</div>
<div class="t" id="b3" style="left:1239.4px;top:915.0px;font-size:19.5px;font-weight:700;color:#222;letter-spacing:0.116px;transform:scaleX(0.9700);transform-origin:0 0;-webkit-text-stroke:0.3px #fcfcfc;">2.140</div>
<div class="t" id="cnc" style="left:88.3px;top:901.0px;font-size:54px;font-weight:700;color:#000;letter-spacing:1.150px;-webkit-text-stroke:1.6px #000;">CNC</div>
<div class="t" id="s1" style="left:-40.2px;top:1018.0px;font-size:16.6px;font-weight:700;color:#3ad07e;letter-spacing:0.497px;transform:scaleX(1.1000);transform-origin:0 0;-webkit-text-stroke:0.5px #3ad07e;">VÉLEZ por la mañana</div>
<div class="t" id="s2" style="left:290.8px;top:1018.0px;font-size:16.6px;font-weight:700;color:#6f2bb3;letter-spacing:0.497px;transform:scaleX(1.1000);transform-origin:0 0;-webkit-text-stroke:0.5px #6f2bb3;">VÉLEZ por la mañana</div>
<div class="t" id="s3" style="left:676.3px;top:1015.0px;font-size:28px;font-weight:700;color:#b2208c;letter-spacing:0.677px;transform:scaleX(1.1000);transform-origin:0 0;-webkit-text-stroke:0.5px #b2208c;">luvelez</div>
<div class="t" id="s4" style="left:1011.5px;top:1015.0px;font-size:25px;font-weight:700;color:#262626;letter-spacing:1.444px;-webkit-text-stroke:0.6px #262626;">@lcvelez</div>
<div class="t" id="s5" style="left:1347.5px;top:1018.0px;font-size:19.8px;font-weight:700;color:#ad1220;letter-spacing:0.377px;transform:scaleX(1.0800);transform-origin:0 0;-webkit-text-stroke:0.4px #ad1220;">@LuisCVelez</div>
<div class="t" id="s6" style="left:1670.8px;top:1023.0px;font-size:16.6px;font-weight:700;color:#30bd6c;letter-spacing:0.497px;transform:scaleX(1.1000);transform-origin:0 0;-webkit-text-stroke:0.5px #30bd6c;">VÉLEZ por la mañana</div>
<div class="t" id="tm" style="left:1808.0px;top:993.0px;font-size:42.5px;font-weight:700;color:#1a73d9;letter-spacing:0.030px;z-index:4;">7:50 a. m.</div>
<div class="t" id="pag" style="left:1851.5px;top:890.0px;font-size:27px;font-weight:400;color:#2a2408;letter-spacing:1.444px;transform:scaleX(1.2200);transform-origin:0 0;">pag</div>
</div>
</div>
</div>
</body>
</html>
